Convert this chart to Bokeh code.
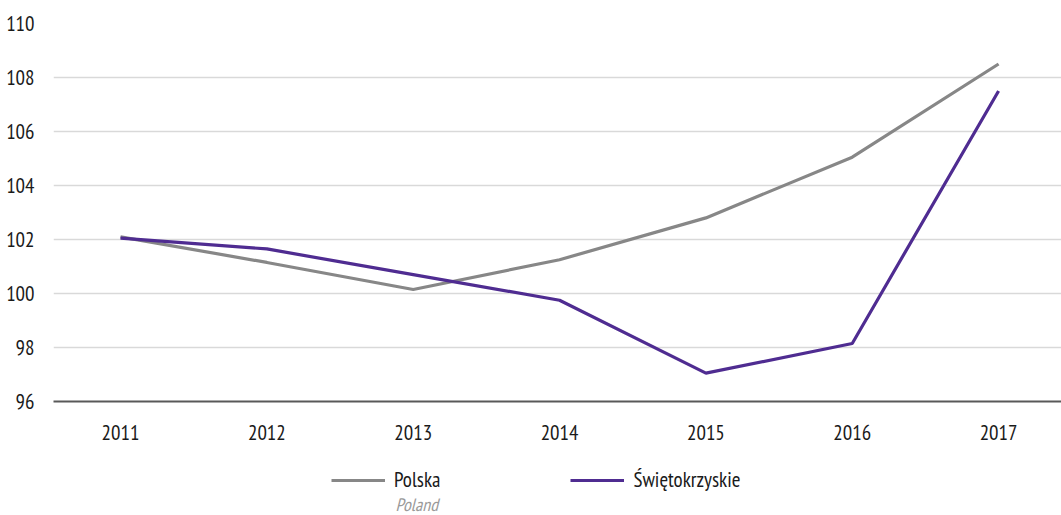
from bokeh.plotting import figure
from bokeh.models import Legend, LegendItem, Label, FixedTicker, Range1d
from bokeh.layouts import column
from bokeh.embed import file_html
from bokeh.resources import INLINE

years = [2011, 2012, 2013, 2014, 2015, 2016, 2017]
polska = [102.1, 101.15, 100.15, 101.25, 102.8, 105.05, 108.5]
swietokrzyskie = [102.05, 101.65, 100.7, 99.75, 97.05, 98.15, 107.5]
y_ticks = [96, 98, 100, 102, 104, 106, 108, 110]
name_pl = "Polska"
name_en = "Poland"
name_sw = "Świętokrzyskie"

FONT = "'PT Sans Narrow', 'Asap Condensed', 'Roboto Condensed', Roboto, sans-serif"
GRAY = "#878787"
PURPLE = "#4f2c91"
FS = "21px"

# main chart
p = figure(width=1061, height=446, output_backend="svg", toolbar_location=None,
           x_range=Range1d(2010.542, 2017.43), y_range=Range1d(96, 110),
           min_border_left=53, min_border_right=0, min_border_top=23, min_border_bottom=45)
p.outline_line_color = None
p.background_fill_color = "white"
p.border_fill_color = "white"

p.line(years, polska, line_color=GRAY, line_width=3.2)
p.line(years, swietokrzyskie, line_color=PURPLE, line_width=3.2)

p.xaxis.ticker = FixedTicker(ticks=years)
p.xaxis.axis_line_color = "#595959"
p.xaxis.axis_line_width = 2
p.xaxis.major_tick_line_color = None
p.xaxis.minor_tick_line_color = None
p.xaxis.major_label_standoff = 17
p.xaxis.major_label_text_font = FONT
p.xaxis.major_label_text_font_size = FS
p.xaxis.major_label_text_color = "#1a1a1a"

p.yaxis.ticker = FixedTicker(ticks=y_ticks)
p.yaxis.axis_line_color = None
p.yaxis.major_tick_line_color = None
p.yaxis.minor_tick_line_color = None
p.yaxis.major_label_standoff = 13
p.yaxis.major_label_text_font = FONT
p.yaxis.major_label_text_font_size = FS
p.yaxis.major_label_text_color = "#1a1a1a"

p.xgrid.grid_line_color = None
p.ygrid.ticker = FixedTicker(ticks=y_ticks)
p.ygrid.grid_line_color = "#d9d9d9"
p.ygrid.grid_line_width = 1.5

# legend strip (same series, drawn out of view so only the legend samples show)
lg = figure(width=1061, height=69, output_backend="svg", toolbar_location=None,
            x_range=Range1d(0, 1), y_range=Range1d(0, 1),
            x_axis_location=None, y_axis_location=None,
            min_border_left=0, min_border_right=0, min_border_top=0, min_border_bottom=0)
lg.outline_line_color = None
lg.grid.visible = False
l1 = lg.line(years, polska, line_color=GRAY, line_width=3.2)
l2 = lg.line(years, swietokrzyskie, line_color=PURPLE, line_width=3.2)

legend = Legend(items=[LegendItem(label=name_pl, renderers=[l1]),
                       LegendItem(label=name_sw, renderers=[l2])],
                orientation="horizontal", location=(278, 22),
                glyph_width=54, glyph_height=22, label_standoff=9, spacing=130,
                padding=0, margin=0, border_line_color=None, background_fill_alpha=0,
                label_text_font=FONT, label_text_font_size=FS, label_text_color="#1a1a1a")
lg.add_layout(legend, "center")

lg.add_layout(Label(x=342, y=11, x_units="screen", y_units="screen", text=name_en,
                    text_font=FONT, text_font_style="italic", text_font_size="18px",
                    text_color="#9a9a9a", text_baseline="middle"))

open("out.html", "w").write(file_html(column(p, lg, spacing=0), INLINE))
